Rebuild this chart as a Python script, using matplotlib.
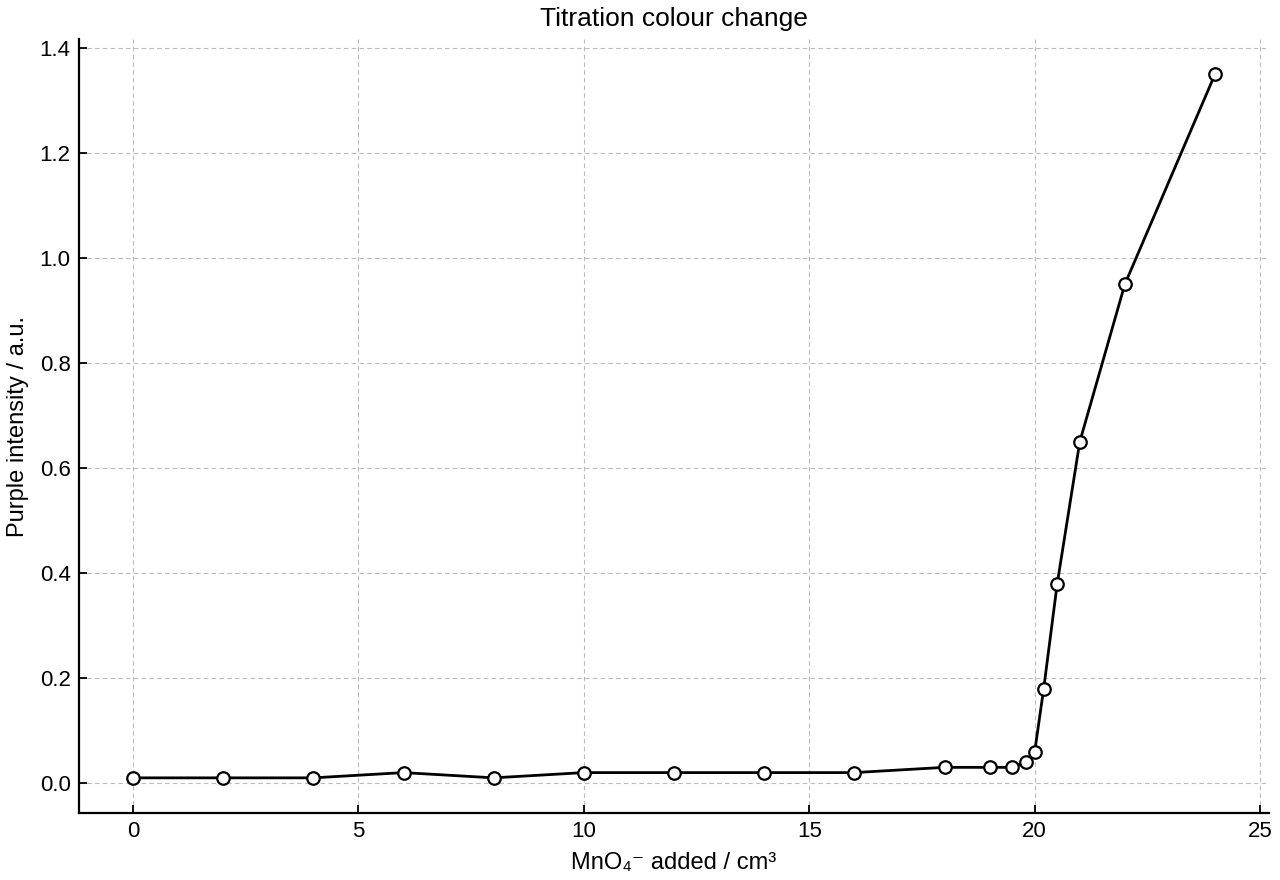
import matplotlib
matplotlib.use("Agg")
import matplotlib.pyplot as plt

plt.rcParams['font.family'] = ['Liberation Sans', 'DejaVu Sans']

volume = [0, 2, 4, 6, 8, 10, 12, 14, 16, 18, 19, 19.5, 19.8, 20, 20.2, 20.5, 21, 22, 24]
intensity = [0.01, 0.01, 0.01, 0.02, 0.01, 0.02, 0.02, 0.02, 0.02, 0.03, 0.03, 0.03,
             0.04, 0.06, 0.18, 0.38, 0.65, 0.95, 1.35]

fig = plt.figure(figsize=(12.8, 8.8), dpi=100)
ax = fig.add_axes([0.0617, 0.0761, 0.9298, 0.8796])
ax.plot(volume, intensity, color='black', linewidth=2.0, marker='o', markersize=9,
        markerfacecolor='white', markeredgecolor='black', markeredgewidth=1.6, zorder=3)
ax.grid(True, linestyle=(0, (4, 3)), color='#bbbbbb', linewidth=0.8)
ax.spines['top'].set_visible(False)
ax.spines['right'].set_visible(False)
ax.spines['left'].set_linewidth(1.6)
ax.spines['bottom'].set_linewidth(1.6)
ax.tick_params(direction='in', labelsize=16, width=1.3, length=6, pad=6)
ax.set_xlabel('MnO₄⁻ added / cm³', fontsize=17, labelpad=7)
ax.set_ylabel('Purple intensity / a.u.', fontsize=17, labelpad=8)
ax.set_title('Titration colour change', fontsize=19, pad=9)
fig.savefig('out.png', dpi=100)
